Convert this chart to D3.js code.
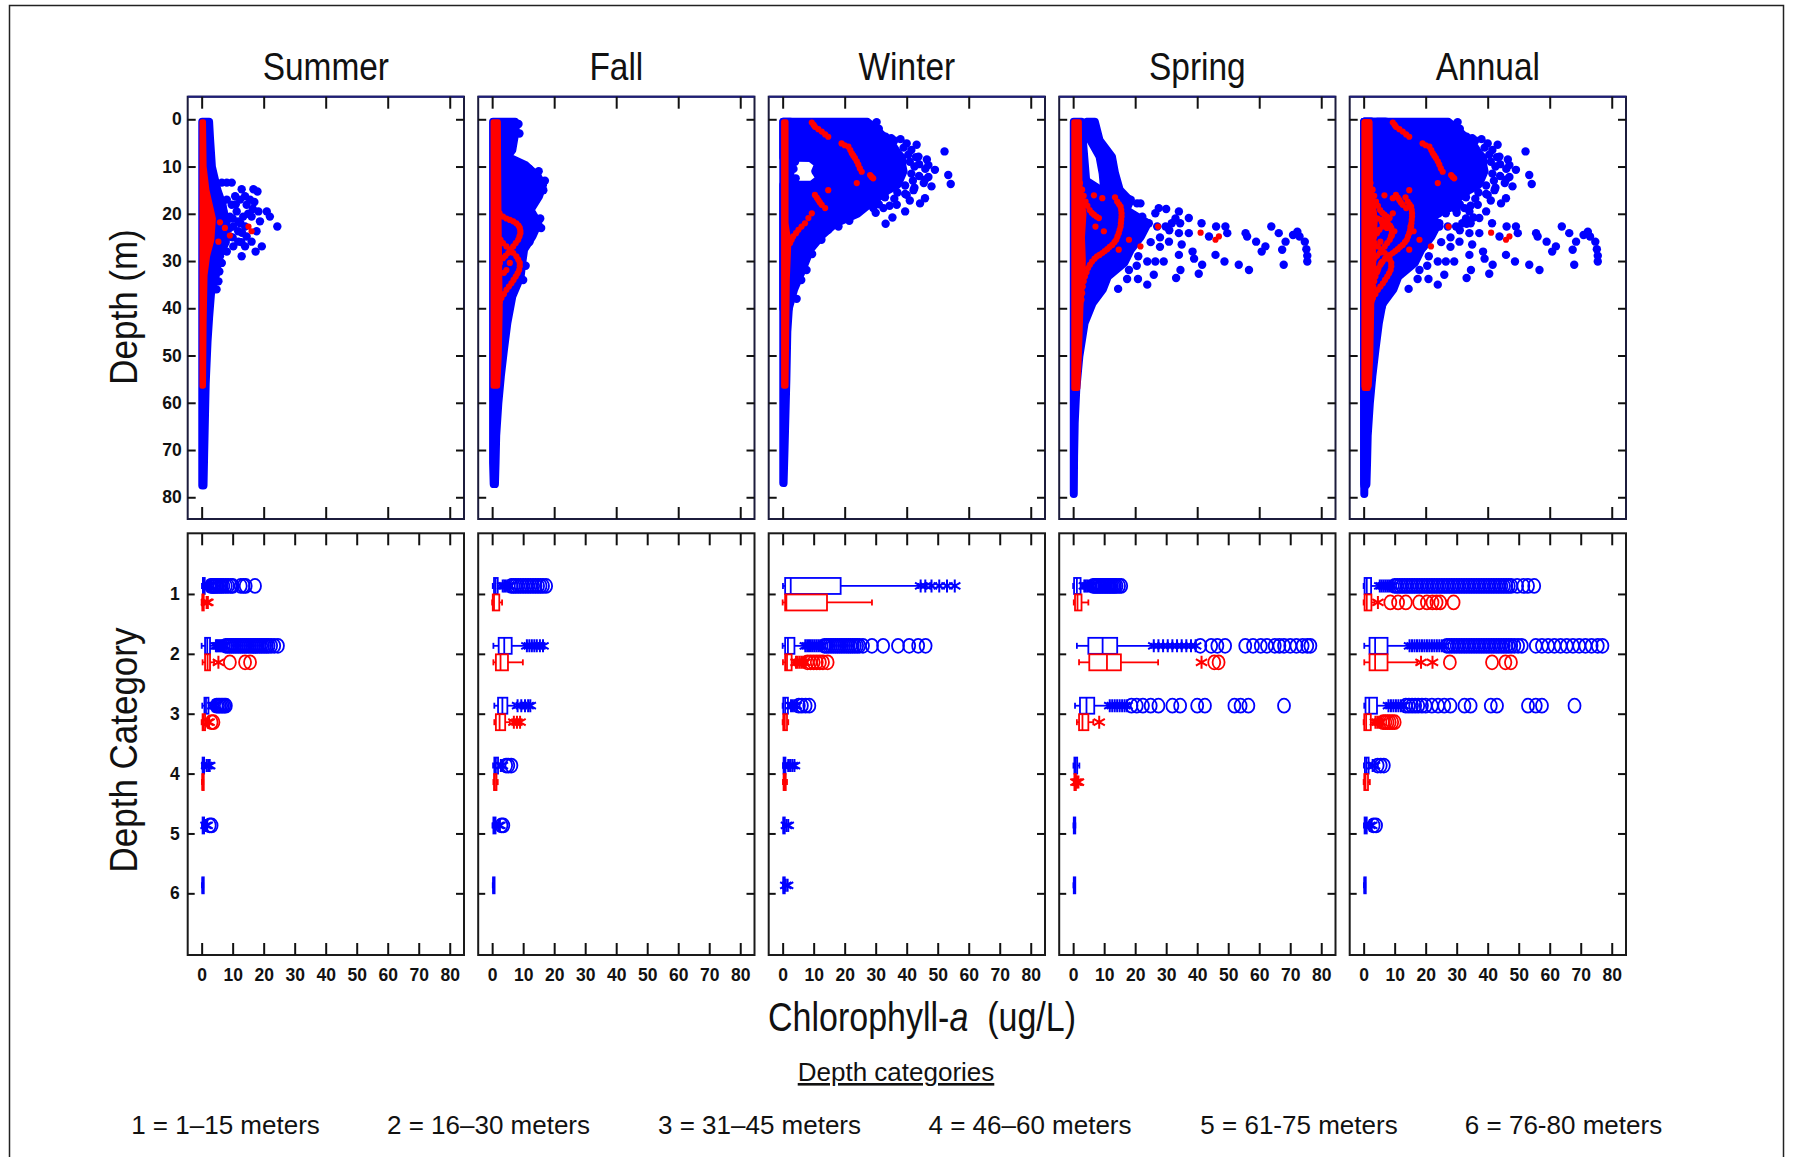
<!DOCTYPE html>
<html><head><meta charset="utf-8">
<script src="https://cdn.jsdelivr.net/npm/d3@7"></script>
<style>body{margin:0;background:#fff}svg{display:block}</style>
</head><body>
<svg id="c" width="1796" height="1157"></svg>
<script>
// ---------------- DATA ----------------
const seasons = ["Summer","Fall","Winter","Spring","Annual"];
const chlTicksTop = [0,20,40,60,80];
const chlTicksBottom = [0,10,20,30,40,50,60,70,80];
const depthTicks = [0,10,20,30,40,50,60,70,80];
const categoryTicks = [1,2,3,4,5,6];
const legendItems = ["1 = 1\u201315 meters","2 = 16\u201330 meters","3 = 31\u201345 meters","4 = 46\u201360 meters","5 = 61-75 meters","6 = 76-80 meters"];

// dense point cores: [depth, chl min, chl max] (point centres)
const summerBlueCore = [[0.5,0.2,2.4],[4,0.2,2.7],[10,0.2,3.3],[12,0.2,4],[15,0.2,5.1],[18,0.2,6.7],[22,0.2,7.8],[26,0.2,7.8],[29,0.2,5.6],[33,0.2,4.6],[37,0.2,3],[42,0.2,2.4],[47,0.2,1.9],[56,0.2,1.3],[62,0.2,1.1],[71,0.2,0.8],[77.5,0.2,0.6]];
const summerRedCore = [[0.5,0.1,0.6],[10,0.1,0.8],[15,0.1,1.7],[21,0.1,3.8],[25.5,0.1,3.3],[29,0.1,1.9],[33,0.1,1.1],[43,0.1,0.8],[56.5,0.1,0.6]];
const summerBlueDots = [[13.4,6.5],[13.4,8.1],[13.4,9.7],[14.8,12.9],[14.8,16.7],[15.3,18],[16.3,10.8],[16.3,14],[17,8.1],[17,12.4],[17,15.6],[18.1,9.7],[18.1,14.5],[19.5,7],[19.5,11.3],[19.5,18.3],[19.5,21],[20.6,9.1],[20.6,13.4],[20.6,16.1],[20.6,22],[21.6,8.1],[21.6,11.8],[21.6,18.8],[22.7,10.2],[22.7,14],[22.7,24.4],[23.7,7.5],[23.7,11.8],[23.7,17.7],[24.8,9.1],[24.8,14.5],[25.9,7],[25.9,11.8],[25.9,16.1],[26.9,10.2],[26.9,14],[26.9,19.4],[28,8.1],[28,17.4],[29,5.9],[29,12.9],[30.4,6.5],[32.2,5.7],[34.3,5.4],[36,4.8],[18,11],[20,15],[22,12.5],[24,13],[25,10],[21,10],[23,9],[19,16.5],[17.5,17],[26,12.8]];
const summerRedDots = [[21.8,5.9],[24.6,9.1],[22.7,15.1],[23.7,16.1],[25.9,5.4],[23,7.5]];

const fallBlueCore = [[0.5,0.3,7.4],[2.3,0.3,7.6],[6.5,0.3,6.5],[7.9,0.3,4.9],[9.7,0.3,10.8],[12,0.3,14.6],[13.9,0.3,16.4],[16.3,0.3,15.1],[19.2,0.3,12.4],[22,0.3,14.9],[24.8,0.3,13],[27.6,0.3,10.3],[30.4,0.3,9.7],[33.3,0.3,9.2],[37.5,0.3,6.5],[43.1,0.3,4.9],[48.8,0.3,3.8],[54.4,0.3,2.8],[60,0.3,2],[67,0.3,1.3],[72.7,0.3,1.1],[77.2,0.5,0.9]];
const fallRedCore = [[0.5,0.3,2],[20,0.3,2.2],[40,0.3,2.6],[50,0.3,2.3],[56.5,0.3,1.8]];
const fallBlueDots = [[1,8.5],[3,8.8],[10.5,12],[11,15],[13,17],[15,16.5],[21,15.5],[23,15.8],[26,12],[31,10.8],[34,10]];
const fallRedDots = [[19.2,1.4],[19.9,2.4],[20.6,3.5],[21,4.6],[21.3,5.7],[21.6,6.8],[22,7.8],[22.5,8.5],[23,8.9],[23.6,9.1],[24.1,9.1],[24.8,8.8],[25.5,8.4],[26.2,7.6],[26.9,6.8],[27.6,6],[28.3,5.2],[28.9,4.3],[29.4,3.5],[30.4,2.5],
 [24.8,1.9],[25.5,2.7],[26.2,3.5],[26.9,4.6],[27.6,5.7],[28.3,6.8],[29,7.8],[29.7,8.4],[30.4,8.9],[31.1,8.9],[31.9,8.7],[32.6,8.2],[33.3,7.6],[34,6.9],[34.7,6.2],[35.4,5.4],[36.1,4.6],[37,3.8],[37.8,3],[38.7,2.4],[39.6,1.9],[31.9,4.6],[30.4,5.7],[32.5,3.8]];

const winterBlueColumn = [[0.5,0.2,2.5],[20,0.2,2.5],[40,0.2,2],[45,0.2,1.5],[55,0.2,1.2],[60,0.2,1],[70,0.2,0.6],[77,0.2,0.3]];
const winterBlueCore = [[0.5,0.2,27.3],[3,0.2,31.6],[5,0.2,35],[7,0.2,37],[8.1,0.2,38.5],[8.2,9,38.5],[9.5,11.5,38.5],[11,10.5,39],[12.5,12,38],[13.8,9.5,37],[13.9,0.2,37],[15,0.2,34],[17,0.2,30],[18.5,0.2,27],[20,0.2,24.1],[22,0.2,17.1],[24.5,0.2,12.8],[27.5,0.2,9],[32,0.2,6.3],[36,0.2,3.7],[40,0.2,2]];
const winterRedCore = [[0.5,0.3,1.1],[22,0.3,1.1],[26,0.3,2],[34,0.3,1.5],[56.5,0.3,1.1]];
const winterBlueDots = [[0.6,30.3],[3.7,33.2],[5.1,40],[5.4,43.2],[6.8,52.2],[7.9,43.8],[9.7,47],[10.7,49.1],[12.8,45.9],[11.8,53.4],[13.7,54.2],[15,42.2],[16.7,45.9],[17.8,44.3],[19.5,39.5],[18.1,36.8],[18.8,32.5],[18.8,29.2],[18.8,24.9],[20.8,35.4],[22.1,33.2],[22.7,18],[23.4,14.7],[23.4,9.4],[31.9,7.7],[2,31],[1.2,29],[4.5,36],[8.5,46.5],[14.2,48],[16,40],[19.8,30],[21.5,21.5],[25.5,12.5],[28.5,9.5],[34,6],[38,4.5],
 [6,39],[6.5,41.5],[7.5,40.5],[8,43],[9,41],[9.5,44],[10,42.5],[10.5,46],[11.5,41.5],[12,44],[12.2,47],[13,42],[13.5,45.5],[14,39.5],[14.5,42.5],[15.5,37],[15.8,39.5],[16.5,33],[16.8,36],[17.2,41],[18,31],[18.3,34.5],[4,35],[4.2,38],[9,4],[10.5,3.5],[12.5,4.2],[13.5,10.5]];
const winterRedDots = [[0.7,9.4],[1.2,10],[1.6,10.4],[2.1,11.5],[2.6,12.6],[3.2,13.7],[3.7,14.7],[5.1,19],[5.5,20],[5.8,21.2],[6.5,21.8],[7.2,22.3],[7.7,22.8],[8.2,23.3],[8.9,23.9],[9.6,24.4],[10.4,24.9],[11.1,25.5],[11.8,28.2],[12.2,28.7],[12.5,29.2],[13.5,23.9],[15,14.7],
 [16,10.4],[16.6,11],[17.1,11.5],[17.6,12],[18.1,12.6],[18.8,13.7],[19.9,9.4],[20.9,8.3],[22,7.2],[22.7,6.1],[23.4,5.1],[24.1,4.3],[24.8,3.4],[25.5,2.9],[26.2,2.4]];

const springBlueCore = [[0.5,0.2,2.7],[5,0.2,3.2],[9,0.2,3.7],[13,0.2,4.2],[15,0.2,9],[17,0.2,18.6],[19.2,0.2,17.1],[22,0.2,24.1],[24.8,0.2,21.9],[27.6,0.2,18.6],[30.4,0.2,16.5],[33.3,0.2,11.2],[36,0.2,9.6],[38.9,0.2,6.3],[43.1,0.2,3.7],[50.2,0.2,2],[57.2,0.2,1],[64.3,0.2,0.5],[71.3,0.2,0.3],[79.3,0.2,0.2]];
const springBlueTongue = [[0.5,4.5,7],[4.4,5.5,8.5],[7.9,8.5,12.5],[11.4,9.5,13.5],[14.9,10,15],[17,9,18]];
const springRedCore = [[0.5,0.2,2],[14,0.2,2.2],[17,0.2,2.8],[20,0.2,3.5],[25,0.2,3],[30,0.2,3.3],[40,0.2,2.5],[50,0.2,2],[57,0.2,1.5]];
const springBlueDots = [[17.8,20.6],[17.8,21.7],[18.8,27.6],[19.9,26.5],[19.5,34.1],[20.6,22.3],[22,24.4],[22.7,27.1],[22.7,29.8],[22,31.8],[22,34.5],[20.9,37.3],[24.1,34.1],[25.9,30.9],[24.1,37.3],[22,41.4],[24.8,43.8],[22.7,46.1],[22.7,49.1],[24.1,49.7],[24.1,55.6],[24.8,56.1],[25.9,59],[26.9,62],[28,60.8],[22.7,63.9],[24.1,66.3],[25.9,68.5],[27.6,67.4],[24.5,70.9],[23.8,72.3],[24.8,73],[25.9,74.7],[27.5,75.2],[28.9,75.5],[30.1,75.5],[30.8,67.9],[31.9,56.7],[30.8,53.4],[30.1,48.8],[28.7,45.9],[30.8,41.6],[32.7,40.5],[31.9,34.6],[33.6,33.2],[30.1,29.2],[30.1,26.5],[30.1,23.9],[28.7,34.1],[32.9,26],[33.8,20.9],[35,23.9],[33.8,17.4],[35.9,14.5],[31.9,18],[21,20],[23,22],[26,25],[27,28],[29,21],[31,20.5],[19,30],[21,33],[23.5,31],[25,28],[26.5,35],[28,38.5],[29.5,39]];
const springRedDots = [[13.5,2.2],[14.9,2.9],[16.2,3.4],[17.4,4],[18.3,4.6],[19.2,5.3],[19.8,6],[20.2,6.7],[20.6,7.5],[20.9,8.3],
 [16.5,13.5],[17.4,14.2],[18,14.8],[18.5,15.3],[19.2,15.5],[19.9,15.6],[20.6,15.6],[21.3,15.5],[22,15.4],[22.7,15.3],[23.4,15],[24.1,14.7],[24.8,14.3],[25.5,13.9],[26,13.3],[26.6,12.6],[27,11.8],[27.5,11],[27.9,10.2],[28.3,9.4],[28.7,8.5],[29,7.7],[29.5,6.9],[30.1,6.1],[30.8,5.4],[31.5,4.8],[32.4,4.3],[33.3,3.8],[34.3,3.4],[35.4,3.1],[36.8,2.9],[38.2,2.7],
 [16.1,6.7],[16.7,9.4],[22.7,7.2],[23.7,9.9],[27.6,14.7],[25.5,18],[26.9,21.7],[22.7,27.4],[24,41.1],[25.5,45.9],[24.8,47]];

// box plots: [category, lower whisker, Q1, median, Q3, upper whisker, [outside values *], [far outside values O]]
const summerBlueBox = [
 [1,0.1,0.4,0.7,1.0,1.5,[1.9,2.2,2.5,2.8],[3,3.4,3.8,4.2,4.7,5.2,5.8,6.4,7,7.8,8.5,9.4,10,12.6,13.5,14.2,17.2]],
 [2,0,1.1,1.8,2.7,4.3,[4.6,5,5.4,5.8,6.2,6.6,7,7.4],[7.8,8.4,9,9.6,10.2,10.8,11.4,12,12.6,13.2,13.8,14.4,15,15.6,16.2,16.8,17.4,18,18.6,19.2,19.8,20.4,21,21.6,22.4,23.4,24.6]],
 [3,0.2,0.9,1.4,2.2,3.2,[3.6,4,4.4],[4.8,5.3,5.8,6.3,6.8,7.3,7.8]],
 [4,0.1,0.3,0.5,0.8,1.2,[1.6,2.1,2.6],[]],
 [5,0.1,0.3,0.5,0.7,1,[1.4,1.8],[2.6,3.2]],
 [6,0.1,0.2,0.3,0.4,0.5,[],[]]];
const summerRedBox = [
 [1,0,0.2,0.4,0.6,1.0,[1.6,2.0],[]],
 [2,0.3,1.1,1.9,2.7,4,[5.4],[9.1,14,15.6]],
 [3,0,0.3,0.6,1.1,1.6,[2,2.4],[3.2,3.8]],
 [4,0.1,0.2,0.3,0.4,0.5,[],[]]];
const fallBlueBox = [
 [1,0.2,0.6,1.1,1.8,3.0,[3.4,3.9,4.4,5,5.6],[6.2,6.9,7.6,8.4,9.2,10,10.8,11.6,12.4,13.2,14,14.8,15.6,16.4,17.4]],
 [2,0.4,2.1,3.9,6.3,10.5,[11.2,12,12.8,13.6,14.4,15.4,16.4],[]],
 [3,0.7,1.9,3.3,4.9,7.2,[8.2,9.4,10.6,11.6,12.3],[]],
 [4,0.3,0.7,1.2,1.9,2.4,[2.8,3.3],[4.5,5.2,6.2]],
 [5,0.1,0.4,0.7,1.1,1.6,[2,2.5],[3,3.6]],
 [6,0.2,0.3,0.4,0.5,0.6,[],[]]];
const fallRedBox = [
 [1,0,0.2,0.6,2.3,3.2,[],[]],
 [2,0.4,1.2,2.7,5.1,9.9,[],[]],
 [3,0.7,1.2,2.4,4.2,5.7,[7,8,9],[]],
 [4,0.4,0.6,0.9,1.4,1.8,[],[]]];
const winterBlueBox = [
 [1,0.1,0.8,2.6,18.7,43.7,[44.5,46,48,50.5,53,55.5],[]],
 [2,0,0.8,1.7,3.8,6.8,[7.3,7.9,8.5,9.1,9.7,10.3,10.9,11.5,12.1,12.7],[13.5,14.2,14.9,15.6,16.3,17,17.7,18.4,19.1,19.8,20.5,21.2,21.9,22.6,23.3,24,24.7,25.9,28.8,32.4,37.2,40.8,43.7,46.1]],
 [3,0,0.2,0.8,1.7,2.2,[2.7,3.3,3.9,4.4],[5.2,6.2,7.4,8.6]],
 [4,0.1,0.3,0.6,0.9,1.3,[1.8,2.4,3.1,3.8],[]],
 [5,0.1,0.2,0.3,0.4,0.6,[1.2,1.8],[]],
 [6,0.1,0.2,0.3,0.4,0.6,[1,1.6],[]]];
const winterRedBox = [
 [1,0,0.8,1.2,14.3,28.8,[],[]],
 [2,0.1,0.8,1.4,2.9,3.8,[4.3,4.8,5.4,6,6.6,7.2],[8,9,10,11,12,13,14.5]],
 [3,0,0.2,0.7,1.4,1.8,[],[]],
 [4,0.1,0.3,0.6,1,1.4,[],[]]];
const springBlueBox = [
 [1,0,0.3,1.2,2.4,3.2,[3.6,4,4.5,5,5.5,6],[6.5,7,7.5,8,8.5,9,9.5,10,10.5,11,11.5,12,12.5,13,13.5,14,14.8,15.5]],
 [2,1.2,4.9,9.5,14.2,25.3,[26,27.5,29,30.5,32,33.5,35,36.5,38,39.5],[41,44.5,46.5,49,55.5,58,60.5,62.5,65,66.5,68,70,72,74,75.5,76.5]],
 [3,0.6,2.2,4.3,6.8,11.1,[11.8,12.6,13.4,14.2,15,15.8,16.6,17.4],[18.8,20.5,22.5,25,27.5,32,34.5,40,42.5,52,54,56.5,68]],
 [4,0.1,0.4,0.8,1.3,2.0,[],[]],
 [5,0.1,0.2,0.3,0.5,0.7,[],[]],
 [6,0.1,0.2,0.3,0.4,0.5,[],[]]];
const springRedBox = [
 [1,0.2,0.6,1.4,2.7,4.9,[],[]],
 [2,1.9,5.2,10.9,15.4,27.4,[41.4],[45.5,46.9]],
 [3,1.2,1.9,3,4.9,6.5,[8.4],[]],
 [4,0.2,0.4,0.6,0.8,1.0,[0.9,1.3,1.7],[]]];
const annualBlueBox = [
 [1,0,0.3,1,2.4,4.8,[5.2,5.8,6.4,7,7.6,8.2,8.8,9.4],[10,10.8,11.6,12.4,13.2,14,14.8,15.6,16.4,17.2,18,18.8,19.6,20.4,21.2,22,22.8,23.6,24.4,25.2,26,26.8,27.6,28.4,29.2,30,30.8,31.6,32.4,33.2,34,34.8,35.6,36.4,37.2,38,38.8,39.6,40.4,41.2,42,42.8,43.6,44.4,45.2,46,46.8,47.6,49.5,51.5,53,55]],
 [2,0.2,1.9,3.7,7.7,14.2,[14.8,15.6,16.4,17.2,18,18.8,19.6,20.4,21.2,22,22.8,23.6,24.4,25.2,26],[26.8,27.6,28.4,29.2,30,30.8,31.6,32.4,33.2,34,34.8,35.6,36.4,37.2,38,38.8,39.6,40.4,41.2,42,42.8,43.6,44.4,45.2,46,46.8,47.6,48.6,49.8,51,55.5,57.5,59.5,61.5,63.5,65.5,67.5,69.5,71.5,73.5,75.5,77]],
 [3,0.2,0.6,1.8,4.3,7.4,[8,8.8,9.6,10.4,11.2,12,12.8],[13.6,14.6,15.6,16.6,17.6,18.8,20,22,24,26,28,32.5,34.5,41,43,53,55.5,57.5,68]],
 [4,0.1,0.4,0.9,1.6,2.4,[2.9,3.5],[4.5,5.5,6.5]],
 [5,0.1,0.3,0.6,1,1.5,[2,2.6],[3.2,4]],
 [6,0.1,0.2,0.3,0.4,0.5,[],[]]];
const annualRedBox = [
 [1,0,0.3,1,2.5,3.5,[4.6],[8.6,11.1,13.6,17.9,20.4,22.2,23.5,24.7,29]],
 [2,0.2,1.9,3.7,7.7,17.3,[18.5,22.2],[27.8,41.4,45.7,47.5]],
 [3,0,0.2,0.8,2.3,3.2,[3.8,4.4,5,5.6],[6.3,7,7.7,8.4,9.2,10]],
 [4,0,0.2,0.6,1.4,2,[],[]]];

// ---------------- LAYOUT ----------------
const panels = [
 {name:seasons[0], blueCores:[summerBlueCore], blueDots:summerBlueDots, redCores:[summerRedCore], redDots:summerRedDots, blueBox:summerBlueBox, redBox:summerRedBox},
 {name:seasons[1], blueCores:[fallBlueCore], blueDots:fallBlueDots, redCores:[fallRedCore], redDots:fallRedDots, blueBox:fallBlueBox, redBox:fallRedBox},
 {name:seasons[2], blueCores:[winterBlueColumn,winterBlueCore], blueDots:winterBlueDots, redCores:[winterRedCore], redDots:winterRedDots, blueBox:winterBlueBox, redBox:winterRedBox},
 {name:seasons[3], blueCores:[springBlueCore,springBlueTongue], blueDots:springBlueDots, redCores:[springRedCore], redDots:springRedDots, blueBox:springBlueBox, redBox:springRedBox},
 {name:seasons[4], blueCores:[summerBlueCore,fallBlueCore,winterBlueColumn,winterBlueCore,springBlueCore,springBlueTongue],
  blueDots:[].concat(summerBlueDots,fallBlueDots,winterBlueDots,springBlueDots),
  redCores:[summerRedCore,fallRedCore,winterRedCore,springRedCore],
  redDots:[].concat(summerRedDots,fallRedDots,winterRedDots,springRedDots), blueBox:annualBlueBox, redBox:annualRedBox}
];

const BLUE="#0000ff", RED="#ff0000";
const FONT="'Liberation Sans', Arial, Helvetica, sans-serif";
const svg = d3.select("#c");
const PW = 276.3, STRIDE = 290.5, L0 = 187.7;
const topY0=96.7, topY1=519, botY0=533.3, botY1=955;
const yTop = d3.scaleLinear().domain([-4.78,84.6]).range([topY0,topY1]);
const yBot = d3.scaleLinear().domain([-0.013,7.03]).range([botY0,botY1]);

// outer frame
svg.append("rect").attr("x",9.5).attr("y",5.5).attr("width",1774).attr("height",1170)
  .attr("fill","none").attr("stroke","#222").attr("stroke-width",1.5);

function condensedText(x,y,str,size,sx,opts={}){
  const t = svg.append("text")
    .attr("transform",`translate(${x},${y})${opts.rotate?` rotate(${opts.rotate})`:""} scale(${sx},1)`)
    .attr("text-anchor",opts.anchor||"middle")
    .attr("font-family",FONT).attr("font-size",size).attr("fill","#111")
    .attr("font-weight",opts.weight||"normal");
  return t.text(str);
}

function styleAxis(g){
  g.select(".domain").remove();
  g.selectAll(".tick line").attr("stroke","#111").attr("stroke-width",2);
  g.selectAll(".tick text").attr("font-family",FONT).attr("font-size",17.5).attr("font-weight","bold").attr("fill","#111");
}

const asterisk = (cx,cy,r)=>`M${cx},${cy-r}L${cx},${cy+r}M${cx-r*0.866},${cy-r/2}L${cx+r*0.866},${cy+r/2}M${cx-r*0.866},${cy+r/2}L${cx+r*0.866},${cy-r/2}`;

panels.forEach((p,i)=>{
  const L = L0 + i*STRIDE;
  const x = d3.scaleLinear().domain([-4.5,84.6]).range([L, L+PW]);

  // title
  condensedText(L+PW/2, 80, p.name, 38, 0.88);

  // ---------- top panel: depth profiles ----------
  const clipId = "clipTop"+i;
  svg.append("clipPath").attr("id",clipId).append("rect").attr("x",L).attr("y",topY0).attr("width",PW).attr("height",topY1-topY0);
  const gt = svg.append("g").attr("clip-path",`url(#${clipId})`);
  const area = d3.area().y(d=>yTop(d[0])).x0(d=>x(d[1])).x1(d=>x(d[2]));
  p.blueCores.forEach(c=>gt.append("path").attr("d",area(c)).attr("fill",BLUE).attr("stroke",BLUE).attr("stroke-width",8).attr("stroke-linejoin","round"));
  gt.selectAll(null).data(p.blueDots).join("circle").attr("cx",d=>x(d[1])).attr("cy",d=>yTop(d[0])).attr("r",4.2).attr("fill",BLUE);
  p.redCores.forEach(c=>gt.append("path").attr("d",area(c)).attr("fill",RED).attr("stroke",RED).attr("stroke-width",5).attr("stroke-linejoin","round"));
  gt.selectAll(null).data(p.redDots).join("circle").attr("cx",d=>x(d[1])).attr("cy",d=>yTop(d[0])).attr("r",3.1).attr("fill",RED);

  svg.append("rect").attr("x",L).attr("y",topY0).attr("width",PW).attr("height",topY1-topY0).attr("fill","none").attr("stroke","#1c1c3c").attr("stroke-width",2);
  svg.append("line").attr("x1",L).attr("x2",L+PW).attr("y1",topY0).attr("y2",topY0).attr("stroke","#1e1e78").attr("stroke-width",2);

  svg.append("g").attr("transform",`translate(0,${topY0})`).call(d3.axisTop(x).tickValues(chlTicksTop).tickSize(-12).tickFormat("")).call(styleAxis);
  svg.append("g").attr("transform",`translate(0,${topY1})`).call(d3.axisBottom(x).tickValues(chlTicksTop).tickSize(-12).tickFormat("")).call(styleAxis);
  svg.append("g").attr("transform",`translate(${L},0)`).call(d3.axisLeft(yTop).tickValues(depthTicks).tickSize(-8).tickPadding(6).tickFormat(i===0?d3.format("d"):"")).call(styleAxis);
  svg.append("g").attr("transform",`translate(${L+PW},0)`).call(d3.axisRight(yTop).tickValues(depthTicks).tickSize(-8).tickFormat("")).call(styleAxis);

  // ---------- bottom panel: box plots ----------
  const gb = svg.append("g");
  const drawBoxes = (rows,color,off)=>{
    rows.forEach(r=>{
      const [cat,wlo,q1,med,q3,whi,stars,circles]=r;
      const cy = yBot(cat)+off;
      const h = 8;
      gb.selectAll(null).data(circles).join("ellipse").attr("cx",d=>x(d)).attr("cy",cy).attr("rx",6).attr("ry",7)
        .attr("fill","none").attr("stroke",color).attr("stroke-width",1.8);
      gb.selectAll(null).data(stars).join("path").attr("d",d=>asterisk(x(d),cy,6.5))
        .attr("fill","none").attr("stroke",color).attr("stroke-width",2);
      const g = gb.append("g").attr("stroke",color).attr("stroke-width",1.8).attr("fill","none");
      g.append("line").attr("x1",x(wlo)).attr("x2",x(q1)).attr("y1",cy).attr("y2",cy);
      g.append("line").attr("x1",x(q3)).attr("x2",x(whi)).attr("y1",cy).attr("y2",cy);
      g.append("line").attr("x1",x(wlo)).attr("x2",x(wlo)).attr("y1",cy-3).attr("y2",cy+3);
      g.append("line").attr("x1",x(whi)).attr("x2",x(whi)).attr("y1",cy-3).attr("y2",cy+3);
      g.append("rect").attr("x",x(q1)).attr("y",cy-h).attr("width",Math.max(x(q3)-x(q1),1.5)).attr("height",2*h);
      g.append("line").attr("x1",x(med)).attr("x2",x(med)).attr("y1",cy-h).attr("y2",cy+h);
    });
  };
  drawBoxes(p.blueBox,BLUE,-8);
  drawBoxes(p.redBox,RED,8.5);

  svg.append("rect").attr("x",L).attr("y",botY0).attr("width",PW).attr("height",botY1-botY0).attr("fill","none").attr("stroke","#1a1a1a").attr("stroke-width",2);
  svg.append("g").attr("transform",`translate(0,${botY0})`).call(d3.axisTop(x).tickValues(chlTicksBottom).tickSize(-12).tickFormat("")).call(styleAxis);
  svg.append("g").attr("transform",`translate(0,${botY1})`).call(d3.axisBottom(x).tickValues(chlTicksBottom).tickSize(-12).tickPadding(14).tickFormat(d3.format("d"))).call(styleAxis);
  svg.append("g").attr("transform",`translate(${L},0)`).call(d3.axisLeft(yBot).tickValues(categoryTicks).tickSize(-7).tickPadding(8).tickFormat(i===0?d3.format("d"):"")).call(styleAxis);
  svg.append("g").attr("transform",`translate(${L+PW},0)`).call(d3.axisRight(yBot).tickValues(categoryTicks).tickSize(-8).tickFormat("")).call(styleAxis);
});

// axis titles
condensedText(136.7, 307, "Depth (m)", 38, 0.92, {rotate:-90});
condensedText(136.7, 750, "Depth Category", 38, 0.92, {rotate:-90});
const xt = condensedText(922, 1031, "", 40, 0.85);
xt.append("tspan").text("Chlorophyll-");
xt.append("tspan").attr("font-style","italic").text("a");
xt.append("tspan").text("\u00a0\u00a0(ug/L)");

// depth categories legend
svg.append("text").attr("x",896).attr("y",1081).attr("text-anchor","middle").attr("font-family",FONT).attr("font-size",26)
  .attr("fill","#111").attr("text-decoration","underline").text("Depth categories");
const legendCenters = [225.5,488.5,759.5,1030,1299,1563.5];
svg.selectAll(null).data(legendItems).join("text").attr("x",(d,k)=>legendCenters[k]).attr("y",1134).attr("text-anchor","middle")
  .attr("font-family",FONT).attr("font-size",26).attr("fill","#111").text(d=>d);
</script>
</body></html>
